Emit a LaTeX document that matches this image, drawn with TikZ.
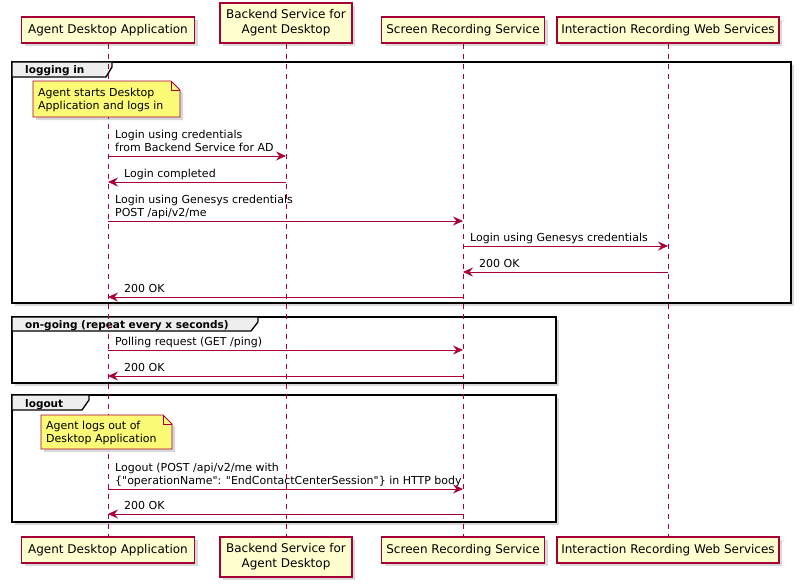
\documentclass[tikz,border=0pt]{standalone}
\usepackage{fontspec}
\setmainfont{DejaVu Sans}
\usetikzlibrary{arrows.meta,shadows}
\definecolor{umlred}{HTML}{A80036}
\definecolor{umlbox}{HTML}{FEFECE}
\definecolor{umlnote}{HTML}{FBFB77}
\definecolor{umltab}{HTML}{EEEEEE}
\tikzset{
  shade box/.style={drop shadow={shadow xshift=3pt,shadow yshift=-3pt,opacity=0.3}},
  actor/.style={draw=umlred, fill=umlbox, line width=1.2pt, inner sep=0pt, align=center,
    font=\fontsize{12}{15}\selectfont, shade box},
  life/.style={umlred, line width=0.8pt, dash pattern=on 5pt off 5pt},
  msg/.style={umlred, line width=0.9pt, -{Stealth[length=10pt,width=9pt,inset=3.5pt]}},
  txt/.style={inner sep=0pt, anchor=south west, align=left, font=\fontsize{11}{13}\selectfont},
  frame/.style={draw=black, fill=white, line width=1.8pt, shade box},
  tab/.style={draw=black, fill=umltab, line width=1.3pt},
  grp/.style={inner sep=0pt, anchor=base west, font=\bfseries\fontsize{10.5}{12}\selectfont},
  note/.style={draw=umlred, fill=umlnote, line width=0.9pt, shade box}
}
\begin{document}
\begin{tikzpicture}[x=1pt,y=-1pt]
  \useasboundingbox (0,0) rectangle (800,586);
  \draw[frame] (12,62) rectangle (791,303);
  \draw[tab] (12,62) -- (112,62) -- (112,67) -- (106,77) -- (12,77) -- cycle;
  \node[grp] (g1) at (25,74) {logging in};
  \draw[frame] (12,317) rectangle (556,383);
  \draw[tab] (12,317) -- (258,317) -- (258,322) -- (251,331) -- (12,331) -- cycle;
  \node[grp] (g2) at (25,328) {on-going (repeat every x seconds)};
  \draw[frame] (12,395) rectangle (556,522);
  \draw[tab] (12,395) -- (89,395) -- (89,400) -- (82,410) -- (12,410) -- cycle;
  \node[grp] (g3) at (25,407) {logout};
  \node[actor, minimum width=173pt, minimum height=26pt] (adaT) at (108,30) {Agent Desktop Application};
  \node[actor, minimum width=132pt, minimum height=40pt] (bsT) at (286,23) {Backend Service for\\Agent Desktop};
  \node[actor, minimum width=163pt, minimum height=26pt] (srsT) at (463,30) {Screen Recording Service};
  \node[actor, minimum width=222pt, minimum height=26pt] (irwT) at (668,30) {Interaction Recording Web Services};
  \node[actor, minimum width=173pt, minimum height=26pt] (adaB) at (108,550) {Agent Desktop Application};
  \node[actor, minimum width=132pt, minimum height=40pt] (bsB) at (286,557) {Backend Service for\\Agent Desktop};
  \node[actor, minimum width=163pt, minimum height=26pt] (srsB) at (463,550) {Screen Recording Service};
  \node[actor, minimum width=222pt, minimum height=26pt] (irwB) at (668,550) {Interaction Recording Web Services};
  \draw[life] (adaT) -- (adaB);
  \draw[life] (bsT) -- (bsB);
  \draw[life] (srsT) -- (srsB);
  \draw[life] (irwT) -- (irwB);
  \draw[note] (33,81) -- (171,81) -- (180,90) -- (180,117) -- (33,117) -- cycle;
  \draw[umlred, line width=0.9pt] (171,81) -- (171,90) -- (180,90);
  \node[txt] (n1) at (38,114) {Agent starts Desktop\\Application and logs in\strut};
  \draw[note] (41,415) -- (163,415) -- (172,424) -- (172,449) -- (41,449) -- cycle;
  \draw[umlred, line width=0.9pt] (163,415) -- (163,424) -- (172,424);
  \node[txt] (n2) at (46,447) {Agent logs out of\\Desktop Application\strut};
  \coordinate (m1) at (0,156);
  \coordinate (m2) at (0,182);
  \coordinate (m3) at (0,221);
  \coordinate (m4) at (0,246);
  \coordinate (m5) at (0,272);
  \coordinate (m6) at (0,297);
  \coordinate (m7) at (0,350);
  \coordinate (m8) at (0,376);
  \coordinate (m9) at (0,489);
  \coordinate (m10) at (0,514);
  \draw[msg] (adaT |- m1) -- (bsT |- m1);
  \node[txt] (l1) at (115,156) {Login using credentials\\from Backend Service for AD\strut};
  \draw[msg] (bsT |- m2) -- (adaT |- m2);
  \node[txt] (l2) at (124,182) {Login completed\strut};
  \draw[msg] (adaT |- m3) -- (srsT |- m3);
  \node[txt] (l3) at (115,221) {Login using Genesys credentials\\POST /api/v2/me\strut};
  \draw[msg] (srsT |- m4) -- (irwT |- m4);
  \node[txt] (l4) at (470,246) {Login using Genesys credentials\strut};
  \draw[msg] (irwT |- m5) -- (srsT |- m5);
  \node[txt] (l5) at (479,272) {200 OK\strut};
  \draw[msg] (srsT |- m6) -- (adaT |- m6);
  \node[txt] (l6) at (124,297) {200 OK\strut};
  \draw[msg] (adaT |- m7) -- (srsT |- m7);
  \node[txt] (l7) at (115,350) {Polling request (GET /ping)\strut};
  \draw[msg] (srsT |- m8) -- (adaT |- m8);
  \node[txt] (l8) at (124,376) {200 OK\strut};
  \draw[msg] (adaT |- m9) -- (srsT |- m9);
  \node[txt] (l9) at (115,489) {Logout (POST /api/v2/me with\\\{\textquotedbl operationName\textquotedbl: \textquotedbl EndContactCenterSession\textquotedbl\} in HTTP body\strut};
  \draw[msg] (srsT |- m10) -- (adaT |- m10);
  \node[txt] (l10) at (124,514) {200 OK\strut};
\end{tikzpicture}
\end{document}
